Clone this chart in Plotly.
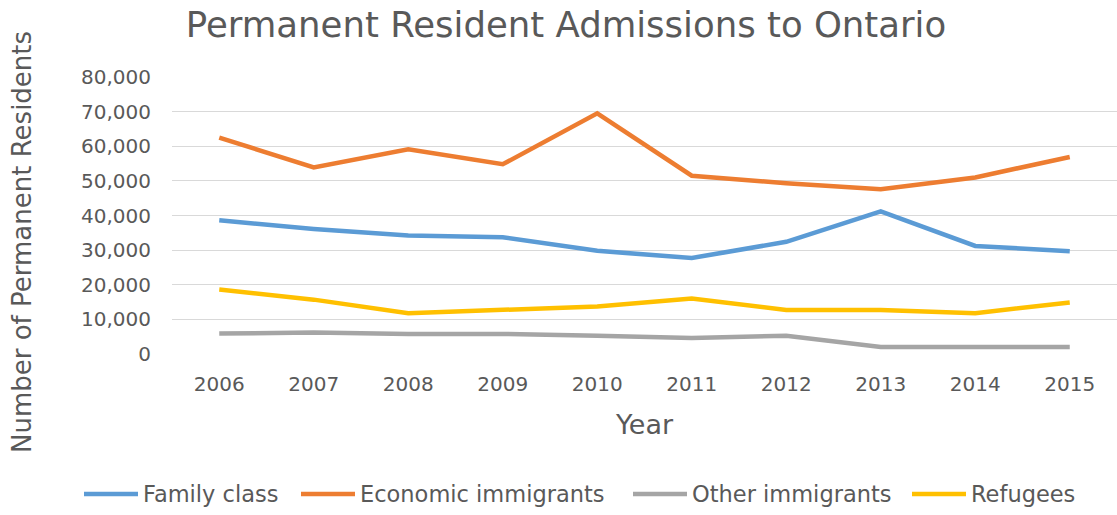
import plotly.graph_objects as go

years = ["2006", "2007", "2008", "2009", "2010", "2011", "2012", "2013", "2014", "2015"]
family_class = [38600, 36100, 34200, 33700, 29800, 27700, 32400, 41200, 31200, 29700]
economic_immigrants = [62500, 53900, 59100, 54800, 69500, 51500, 49300, 47600, 51000, 56900]
other_immigrants = [5900, 6200, 5800, 5800, 5300, 4600, 5300, 2000, 2000, 2000]
refugees = [18600, 15700, 11800, 12600, 13700, 16000, 12700, 12700, 11800, 14900]

series_names = ["Family class", "Economic immigrants", "Other immigrants", "Refugees"]
series_values = [family_class, economic_immigrants, other_immigrants, refugees]
series_colors = ["#5B9BD5", "#ED7D31", "#A5A5A5", "#FFC000"]

FONT = "DejaVu Sans"
TEXT = "#595959"
W, H = 1117, 515
L, R, T, B = 172, 0, 77, 161
PW, PH = W - L - R, H - T - B


def fnt(size):
    return dict(family=FONT, size=size, color=TEXT)


fig = go.Figure()
for name, vals, col in zip(series_names, series_values, series_colors):
    fig.add_trace(go.Scatter(
        x=years, y=vals, name=name, mode="lines",
        line=dict(color=col, width=4.5),
        showlegend=False,
    ))

# px -> paper helpers for decorations placed around the plot area
def px_x(px):
    return (px - L) / PW

def px_y(py):
    return (H - B - py) / PH

# legend drawn as line swatches + labels along the bottom
legend_x = [84, 301, 633, 912]
legend_y = 494
shapes = []
annotations = []
for name, col, x0 in zip(series_names, series_colors, legend_x):
    shapes.append(dict(type="line", xref="paper", yref="paper",
                       x0=px_x(x0), x1=px_x(x0 + 54), y0=px_y(legend_y), y1=px_y(legend_y),
                       line=dict(color=col, width=4.5)))
    annotations.append(dict(text=name, xref="paper", yref="paper",
                            x=px_x(x0 + 57), y=px_y(legend_y), xanchor="left", yanchor="middle",
                            showarrow=False, font=fnt(22.5)))

annotations.append(dict(text="Number of Permanent Residents", xref="paper", yref="paper",
                        x=px_x(22), y=px_y(242), xanchor="center", yanchor="middle",
                        textangle=-90, showarrow=False, font=fnt(26)))

fig.update_layout(
    width=W, height=H,
    margin=dict(l=L, r=R, t=T, b=B),
    paper_bgcolor="white", plot_bgcolor="white",
    font=dict(family=FONT, color=TEXT),
    title=dict(text="Permanent Resident Admissions to Ontario",
               x=566 / W, xanchor="center", xref="container",
               y=1 - 25 / H, yanchor="middle", yref="container",
               font=fnt(35.5)),
    shapes=shapes,
    annotations=annotations,
)
fig.update_xaxes(
    type="category", range=[-0.5, 9.5],
    showgrid=False, showline=False, zeroline=False, ticks="",
    tickfont=fnt(20),
    ticklabelstandoff=16,
    title=dict(text="Year", font=fnt(27), standoff=20),
)
fig.update_yaxes(
    range=[0, 80000], dtick=10000, tickformat=",",
    showgrid=True, gridcolor="#D9D9D9", gridwidth=1.3,
    zeroline=False, showline=False, ticks="",
    tickfont=fnt(20),
    ticklabelstandoff=20,
)

fig.write_html("out.html")
